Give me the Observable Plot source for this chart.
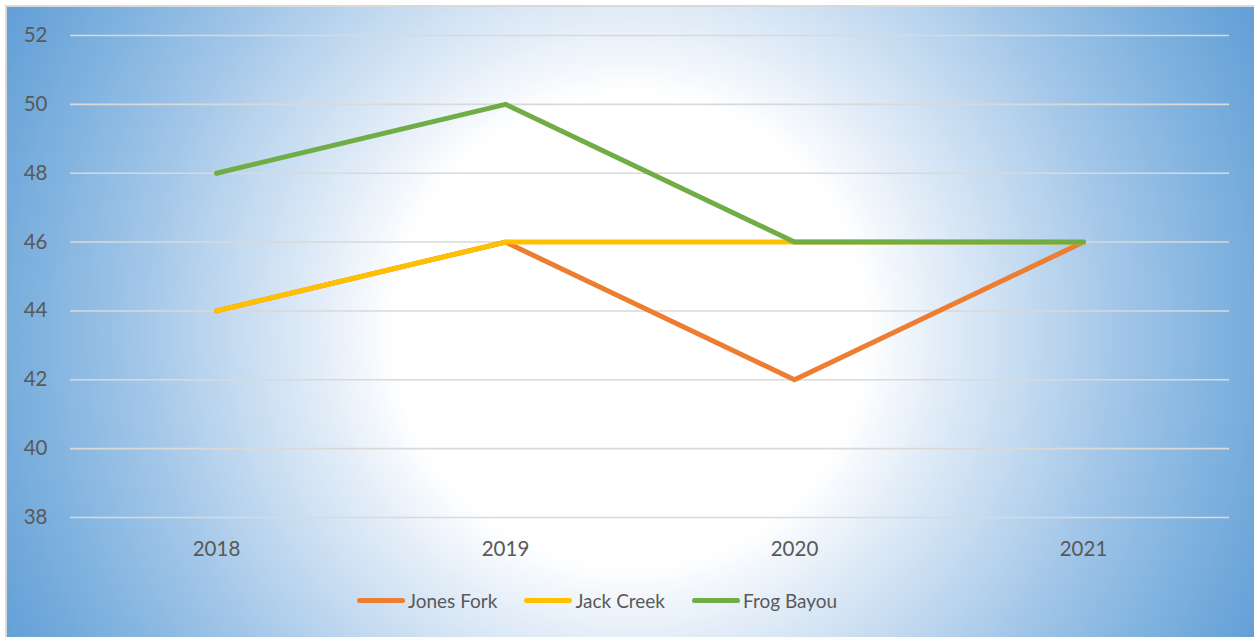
<!DOCTYPE html>
<html>
<head>
<meta charset="utf-8">
<script src="https://cdn.jsdelivr.net/npm/d3@7"></script>
<script src="https://cdn.jsdelivr.net/npm/@observablehq/plot@0.6"></script>
<style>
  html, body { margin: 0; padding: 0; width: 1254px; height: 637px; overflow: hidden; background: #fff; }
  #bg {
    position: absolute; left: 5px; top: 5px; width: 1249px; height: 632px;
    border-left: 2px solid #d9d9d9; border-top: 2px solid #d9d9d9; box-sizing: border-box;
    background: radial-gradient(circle 730px at 623px 323px,
      #ffffff 0px, #ffffff 235px, #e3edf8 310px, #c3daf0 400px, #a2c6e8 490px,
      #84b5e0 580px, #6aa4d9 670px, #5b9bd5 730px);
  }
  #chart { position: absolute; left: 0; top: 0; }
  #legend {
    position: absolute; left: 357px; top: 589px; display: flex; align-items: center;
    font-family: Lato, "Open Sans", sans-serif; font-size: 19px; color: #595959;
  }
  .item { display: flex; align-items: center; margin-right: 27px; }
  .sw { width: 48px; height: 5px; border-radius: 3px; margin-right: 3px; }
</style>
</head>
<body>
<div id="bg"></div>
<div id="chart"></div>
<div id="legend"></div>
<script>
const years = ["2018", "2019", "2020", "2021"];
const seriesNames = ["Jones Fork", "Jack Creek", "Frog Bayou"];
const jonesFork = [44, 46, 42, 46];
const jackCreek = [44, 46, 46, 46];
const frogBayou = [48, 50, 46, 46];
const seriesColors = ["#ED7D31", "#FFC000", "#70AD47"];
const yTicks = [38, 40, 42, 44, 46, 48, 50, 52];

const seriesValues = [jonesFork, jackCreek, frogBayou];
const rows = [];
seriesNames.forEach((name, i) => {
  years.forEach((yr, j) => rows.push({series: name, year: yr, value: seriesValues[i][j]}));
});

const chart = Plot.plot({
  width: 1254,
  height: 575,
  marginLeft: 70,
  marginRight: 25,
  marginTop: 35,
  marginBottom: 58,
  style: {background: "transparent", fontFamily: "Lato, 'Open Sans', sans-serif", fontSize: "20.5px", color: "#595959"},
  x: {type: "point", domain: years, padding: 0.5, label: null},
  y: {domain: [38, 52], label: null},
  color: {domain: seriesNames, range: seriesColors},
  marks: [
    Plot.ruleY(yTicks, {stroke: "#d9d9d9", strokeWidth: 1.6}),
    Plot.axisY({ticks: yTicks, tickSize: 0, tickPadding: 23, label: null, fill: "#595959"}),
    Plot.axisX({tickSize: 0, tickPadding: 24, label: null, fill: "#595959"}),
    Plot.line(rows, {x: "year", y: "value", z: "series", stroke: "series", strokeWidth: 5, strokeLinecap: "round", strokeLinejoin: "round"})
  ]
});
document.getElementById("chart").appendChild(chart);

const legend = document.getElementById("legend");
seriesNames.forEach((name, i) => {
  const item = document.createElement("div");
  item.className = "item";
  const sw = document.createElement("div");
  sw.className = "sw";
  sw.style.background = seriesColors[i];
  const label = document.createElement("span");
  label.textContent = name;
  item.appendChild(sw);
  item.appendChild(label);
  legend.appendChild(item);
});
</script>
</body>
</html>
